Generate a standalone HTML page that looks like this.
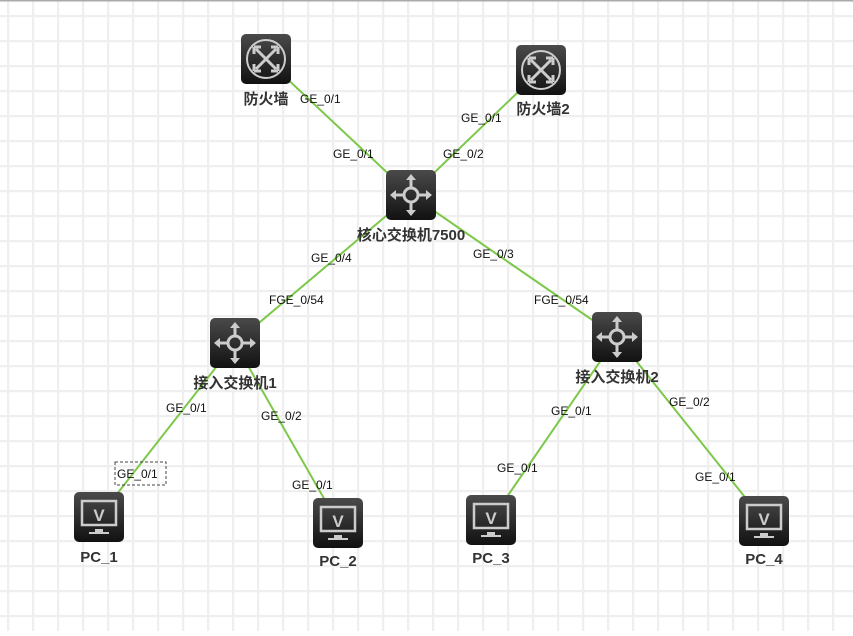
<!DOCTYPE html>
<html><head><meta charset="utf-8"><style>
body{margin:0;width:853px;height:631px;overflow:hidden;background:#fff;}
svg text{font-family:"Liberation Sans","Noto Sans CJK SC",sans-serif;}
</style></head><body>
<svg width="853" height="631" xmlns="http://www.w3.org/2000/svg">
<defs>
<pattern id="g" x="7" y="15" width="25" height="25" patternUnits="userSpaceOnUse">
<path d="M0 1H25M1 0V25" stroke="#efefef" stroke-width="2.5" fill="none"/>
</pattern>
<linearGradient id="d" x1="0" y1="0" x2="0" y2="1"><stop offset="0" stop-color="#4a4a4a"/><stop offset="1" stop-color="#111"/></linearGradient>
<g id="fw"><rect x="-25" y="-25" width="50" height="50" rx="5" fill="url(#d)"/><circle r="19" fill="none" stroke="#ccc" stroke-width="2"/><path d="M-10-10L10 10M10-10L-10 10M-12-12h7M-12-12v7M12-12h-7M12-12v7M-12 12h7M-12 12v-7M12 12h-7M12 12v-7" stroke="#ccc" stroke-width="3" fill="none"/></g>
<g id="sw"><rect x="-25" y="-25" width="50" height="50" rx="5" fill="url(#d)"/><circle r="7" fill="none" stroke="#ccc" stroke-width="3"/><path d="M0-7V-17M0 7V17M-7 0H-17M7 0H17" stroke="#ccc" stroke-width="3"/><path d="M0-21l-5 6h10zM0 21l-5-6h10zM-21 0l6-5v10zM21 0l-6-5v10z" fill="#ccc"/></g>
<g id="pc"><rect x="-25" y="-25" width="50" height="50" rx="5" fill="url(#d)"/><rect x="-17" y="-16" width="34" height="24" fill="none" stroke="#ccc" stroke-width="2.5"/><path d="M-4 12h8v3h6v2h-20v-2h6z" fill="#ccc"/><text x="0" y="4" text-anchor="middle" font-size="17" font-weight="bold" fill="#ccc">V</text></g>
</defs>
<rect width="853" height="631" fill="url(#g)"/>
<rect width="853" height="1.5" fill="#aaa"/>
<g stroke="#7dc84a" stroke-width="2">
<line x1="266" y1="59" x2="411" y2="195"/><line x1="541" y1="70" x2="411" y2="195"/>
<line x1="411" y1="195" x2="235" y2="343"/><line x1="411" y1="195" x2="617" y2="337"/>
<line x1="235" y1="343" x2="99" y2="517"/><line x1="235" y1="343" x2="338" y2="523"/>
<line x1="617" y1="337" x2="491" y2="520"/><line x1="617" y1="337" x2="764" y2="521"/>
</g>
<use href="#fw" x="266" y="59"/><use href="#fw" x="541" y="70"/>
<use href="#sw" x="411" y="195"/><use href="#sw" x="235" y="343"/><use href="#sw" x="617" y="337"/>
<use href="#pc" x="99" y="517"/><use href="#pc" x="338" y="523"/><use href="#pc" x="491" y="520"/><use href="#pc" x="764" y="521"/>
<g font-size="15" font-weight="bold" fill="#333" text-anchor="middle">
<text x="266" y="104">防火墙</text><text x="543" y="114">防火墙2</text>
<text x="411" y="240">核心交换机7500</text><text x="235" y="388">接入交换机1</text><text x="617" y="382">接入交换机2</text>
<text x="99" y="562">PC_1</text><text x="338" y="566">PC_2</text><text x="491" y="563">PC_3</text><text x="764" y="564">PC_4</text>
</g>
<g font-size="12" fill="#111">
<text x="300" y="103">GE_0/1</text><text x="333" y="158">GE_0/1</text>
<text x="461" y="122">GE_0/1</text><text x="443" y="158">GE_0/2</text>
<text x="311" y="262">GE_0/4</text><text x="473" y="258">GE_0/3</text>
<text x="269" y="304">FGE_0/54</text><text x="534" y="304">FGE_0/54</text>
<text x="166" y="412">GE_0/1</text><text x="261" y="420">GE_0/2</text>
<text x="551" y="415">GE_0/1</text><text x="669" y="406">GE_0/2</text>
<text x="117" y="478">GE_0/1</text><text x="292" y="489">GE_0/1</text>
<text x="497" y="472">GE_0/1</text><text x="695" y="481">GE_0/1</text>
</g>
<rect x="115" y="462" width="51" height="23" fill="none" stroke="#444" stroke-dasharray="3,2"/>
</svg>
</body></html>
